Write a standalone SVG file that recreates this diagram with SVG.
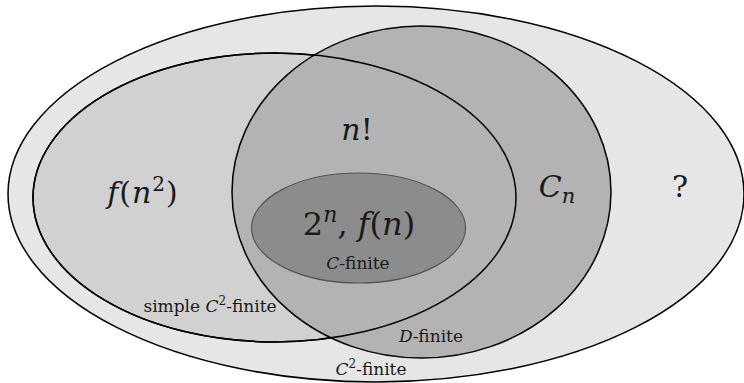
<svg xmlns="http://www.w3.org/2000/svg" width="744" height="383" viewBox="0 0 744 383">
<style>
.o{stroke:#000;stroke-width:1.5}
text{font-family:'DejaVu Serif',serif;fill:#1a1a1a}
.m{font-style:italic}
.big{font-size:30px}
.lab{font-size:17px}
</style>
<rect width="744" height="383" fill="#fff"/>
<g id="c2finite">
<ellipse cx="376" cy="194" rx="368" ry="188" fill="#e6e6e6" class="o"/>
</g>
<g id="simple">
<ellipse cx="274.5" cy="197.5" rx="241.5" ry="144.5" fill="#d1d1d1" class="o"/>
</g>
<g id="dfinite">
<ellipse cx="421.5" cy="192" rx="189.5" ry="166" fill="#b3b3b3" class="o"/>
</g>
<g id="simple-outline">
<ellipse cx="274.5" cy="197.5" rx="241.5" ry="144.5" fill="none" class="o"/>
</g>
<g id="cfinite">
<ellipse cx="358.5" cy="228" rx="107" ry="55" fill="#8c8c8c" stroke="#555" stroke-width="1.2"/>
</g>
<g id="labels">
<text x="357" y="140" text-anchor="middle" class="big"><tspan class="m">n</tspan>!</text>
<text x="143" y="203" text-anchor="middle" class="big" letter-spacing="1"><tspan class="m">f</tspan>(<tspan class="m">n</tspan><tspan font-size="20" dy="-12">2</tspan><tspan dy="12">)</tspan></text>
<text x="557" y="197" text-anchor="middle" class="big"><tspan class="m">C</tspan><tspan class="m" font-size="21" dy="6">n</tspan></text>
<text x="680" y="197" text-anchor="middle" class="big">?</text>
<text x="359" y="235" text-anchor="middle" font-size="32">2<tspan class="m" font-size="22" dy="-13">n</tspan><tspan dy="13">, </tspan><tspan class="m">f</tspan>(<tspan class="m">n</tspan>)</text>
<text x="358" y="269" text-anchor="middle" class="lab"><tspan class="m">C</tspan>-finite</text>
<text x="210" y="312" text-anchor="middle" class="lab">simple <tspan class="m">C</tspan><tspan font-size="12" dy="-7">2</tspan><tspan dy="7">-finite</tspan></text>
<text x="431" y="342" text-anchor="middle" class="lab"><tspan class="m">D</tspan>-finite</text>
<text x="371" y="375" text-anchor="middle" class="lab"><tspan class="m">C</tspan><tspan font-size="12" dy="-7">2</tspan><tspan dy="7">-finite</tspan></text>
</g>
</svg>
